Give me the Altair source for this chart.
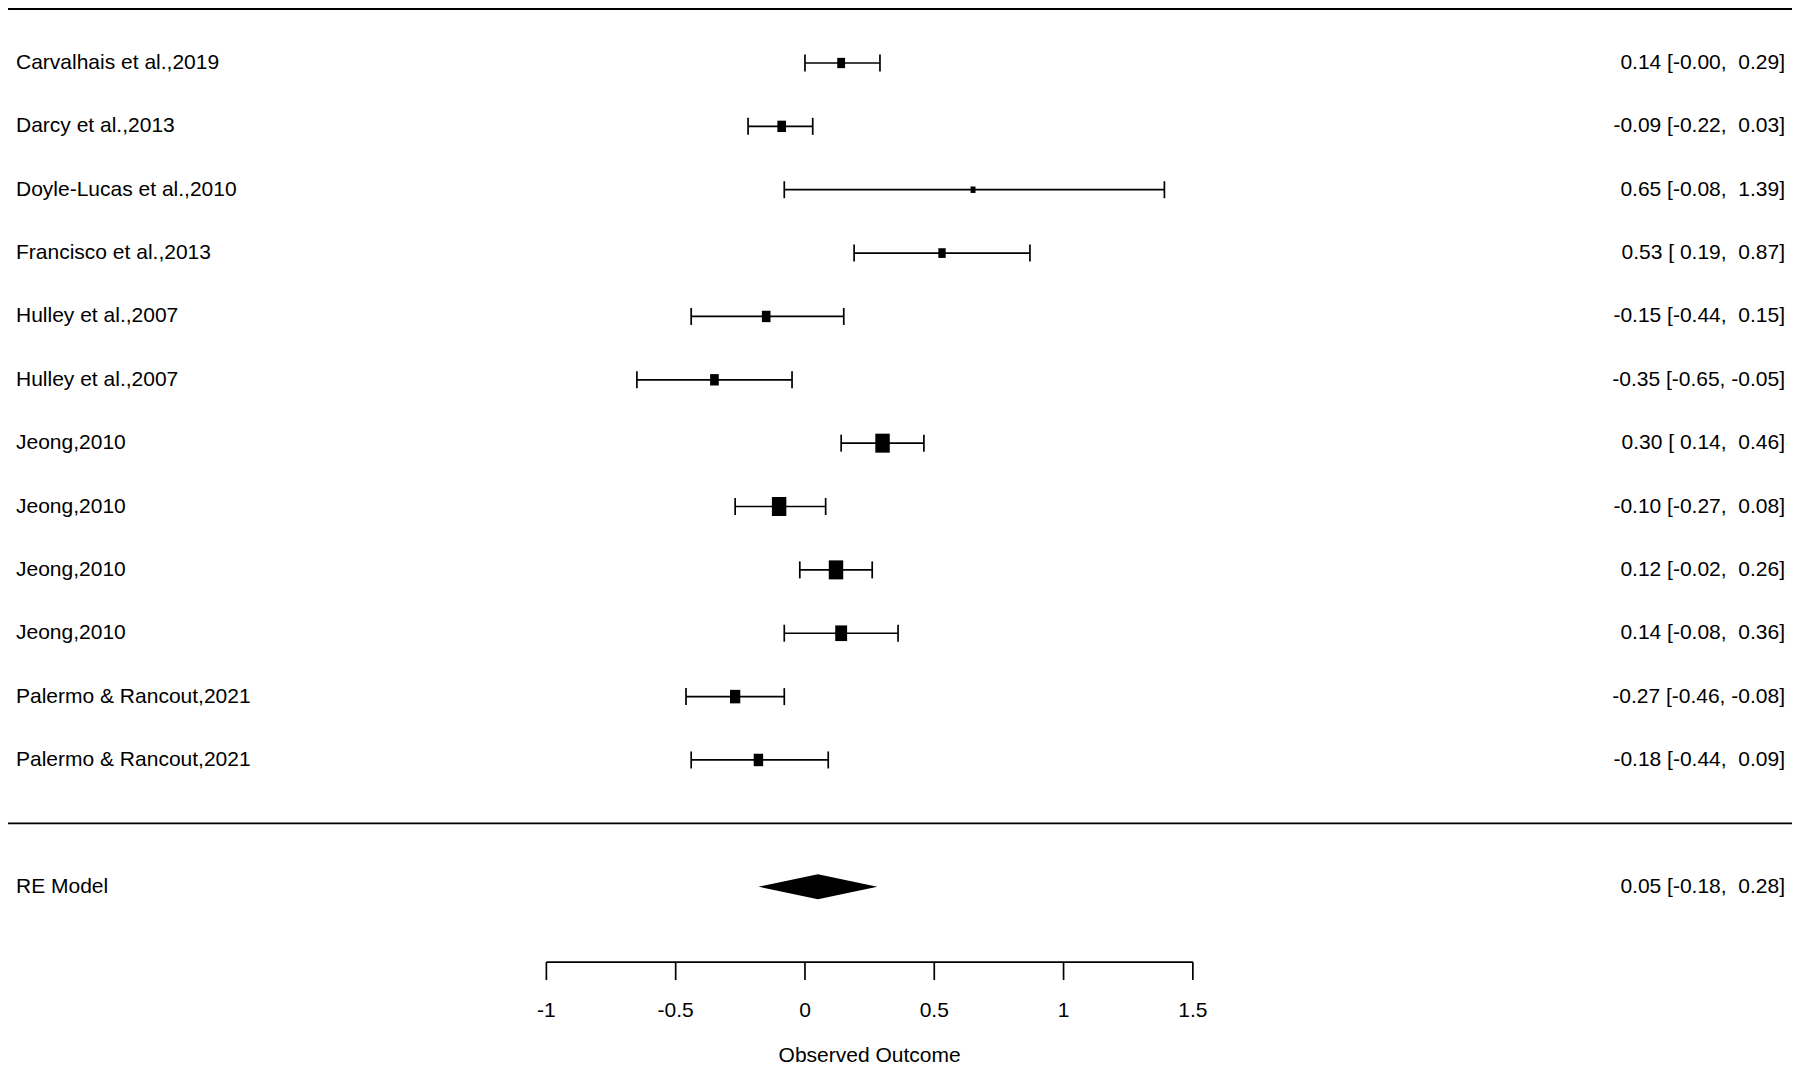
import altair as alt
import pandas as pd

# ---------------- data ----------------
studies = [
    "Carvalhais et al.,2019", "Darcy et al.,2013", "Doyle-Lucas et al.,2010",
    "Francisco et al.,2013", "Hulley et al.,2007", "Hulley et al.,2007",
    "Jeong,2010", "Jeong,2010", "Jeong,2010", "Jeong,2010",
    "Palermo & Rancout,2021", "Palermo & Rancout,2021",
]
estimates = [0.14, -0.09, 0.65, 0.53, -0.15, -0.35, 0.30, -0.10, 0.12, 0.14, -0.27, -0.18]
lowers = [-0.00, -0.22, -0.08, 0.19, -0.44, -0.65, 0.14, -0.27, -0.02, -0.08, -0.46, -0.44]
uppers = [0.29, 0.03, 1.39, 0.87, 0.15, -0.05, 0.46, 0.08, 0.26, 0.36, -0.08, 0.09]
weights = [6.4, 7.1, 3.9, 6.0, 7.1, 7.1, 12.1, 12.1, 12.1, 9.9, 8.5, 7.8]

re_label = "RE Model"
re_est, re_lower, re_upper = 0.05, -0.18, 0.28

tick_values = [-1, -0.5, 0, 0.5, 1, 1.5]
tick_labels = ["-1", "-0.5", "0", "0.5", "1", "1.5"]
x_title = "Observed Outcome"

# ---------------- layout / style ----------------
W, H = 1784, 1063
FONT = "Liberation Sans"
FS = 21
LW = 1.7
xs = alt.Scale(domain=[-3.082, 3.817], nice=False, zero=False)
ys = alt.Scale(domain=[-3.909, 12.868], nice=False, zero=False)
row_px = 63.36
axis_row = -2.19
tick_len = 18 / row_px
label_row = -2.962
title_row = -3.672
cap = 17
diamond_half = 12.5 / row_px
h_min, h_max = 6.5, 19.0


def fmt_ci(e, lo, hi):
    s = f"{e:.2f} [{lo:5.2f}, {hi:5.2f}]"
    return s.replace(" ", "\u00a0")


k = len(studies)
df = pd.DataFrame({
    "study": studies,
    "est": estimates,
    "lower": lowers,
    "upper": uppers,
    "weight": weights,
    "row": list(range(k, 0, -1)),
})
df["ci"] = [fmt_ci(e, lo, hi) for e, lo, hi in zip(estimates, lowers, uppers)]
wmin, wmax = min(weights), max(weights)
df["area"] = (h_min + (df["weight"] - wmin) / (wmax - wmin) * (h_max - h_min)) ** 2

re_df = pd.DataFrame({"label": [re_label], "ci": [fmt_ci(re_est, re_lower, re_upper)], "row": [-1]})
diamond_df = pd.DataFrame({
    "x": [re_lower, re_est, re_upper],
    "y": [-1, -1 + diamond_half, -1],
    "y2": [-1, -1 - diamond_half, -1],
})
ticks_df = pd.DataFrame({"value": tick_values, "label": tick_labels})
one = pd.DataFrame({"a": [0]})

X = lambda f: alt.X(f, scale=xs, axis=None)
Y = lambda f: alt.Y(f, scale=ys, axis=None)

base = alt.Chart(df)

top_line = alt.Chart(one).mark_rule(color="black", strokeWidth=2).encode(
    x=alt.value(0), x2=alt.value(W), y=alt.value(1))
sep_line = alt.Chart(one).mark_rule(color="black", strokeWidth=LW).encode(
    x=alt.value(0), x2=alt.value(W), y=alt.Y(datum=0, scale=ys, axis=None))
ref_line = alt.Chart(one).mark_rule(color="black", strokeWidth=1.6, strokeDash=[3, 4]).encode(
    x=alt.X(datum=0, scale=xs, axis=None), y=alt.value(0),
    y2=alt.Y2(datum=axis_row))

ci_lines = base.mark_rule(color="black", strokeWidth=LW).encode(
    x=X("lower:Q"), x2="upper:Q", y=Y("row:Q"))
cap_lo = base.mark_tick(orient="vertical", size=cap, thickness=LW, color="black", opacity=1).encode(
    x=X("lower:Q"), y=Y("row:Q"))
cap_hi = base.mark_tick(orient="vertical", size=cap, thickness=LW, color="black", opacity=1).encode(
    x=X("upper:Q"), y=Y("row:Q"))
boxes = base.mark_point(
    shape="M-0.76,-1L0.76,-1L0.76,1L-0.76,1Z", filled=True, color="black", opacity=1, strokeWidth=0
).encode(x=X("est:Q"), y=Y("row:Q"), size=alt.Size("area:Q", scale=None))

left_text = base.mark_text(align="left", baseline="middle", font=FONT, fontSize=FS, color="black").encode(
    x=alt.value(8), y=Y("row:Q"), text="study:N")
right_text = base.mark_text(align="right", baseline="middle", font=FONT, fontSize=FS, color="black").encode(
    x=alt.value(1777), y=Y("row:Q"), text="ci:N")

re_left = alt.Chart(re_df).mark_text(align="left", baseline="middle", font=FONT, fontSize=FS, color="black").encode(
    x=alt.value(8), y=Y("row:Q"), text="label:N")
re_right = alt.Chart(re_df).mark_text(align="right", baseline="middle", font=FONT, fontSize=FS, color="black").encode(
    x=alt.value(1777), y=Y("row:Q"), text="ci:N")
diamond = alt.Chart(diamond_df).mark_area(color="black", opacity=1, orient="vertical").encode(
    x=X("x:Q"), y=Y("y:Q"), y2="y2:Q")

axis_line = alt.Chart(one).mark_rule(color="black", strokeWidth=LW).encode(
    x=alt.X(datum=min(tick_values), scale=xs, axis=None), x2=alt.X2(datum=max(tick_values)),
    y=alt.Y(datum=axis_row, scale=ys, axis=None))
axis_ticks = alt.Chart(ticks_df).mark_rule(color="black", strokeWidth=LW).encode(
    x=X("value:Q"), y=alt.Y(datum=axis_row, scale=ys, axis=None), y2=alt.Y2(datum=axis_row - tick_len))
axis_labels = alt.Chart(ticks_df).mark_text(baseline="middle", align="center", font=FONT, fontSize=FS, color="black").encode(
    x=X("value:Q"), y=alt.Y(datum=label_row, scale=ys, axis=None), text="label:N")
axis_title = alt.Chart(one).mark_text(baseline="middle", align="center", font=FONT, fontSize=FS, color="black").encode(
    x=alt.X(datum=(min(tick_values) + max(tick_values)) / 2, scale=xs, axis=None),
    y=alt.Y(datum=title_row, scale=ys, axis=None), text=alt.value(x_title))

chart = alt.layer(
    top_line, sep_line, ref_line, ci_lines, cap_lo, cap_hi, boxes,
    left_text, right_text, re_left, re_right, diamond,
    axis_line, axis_ticks, axis_labels, axis_title,
).properties(
    width=W, height=H, padding=0, autosize=alt.AutoSizeParams(type="none"),
    background="white",
).configure_view(stroke=None)

chart.save("out.html", embed_options={"renderer": "svg", "actions": False})
